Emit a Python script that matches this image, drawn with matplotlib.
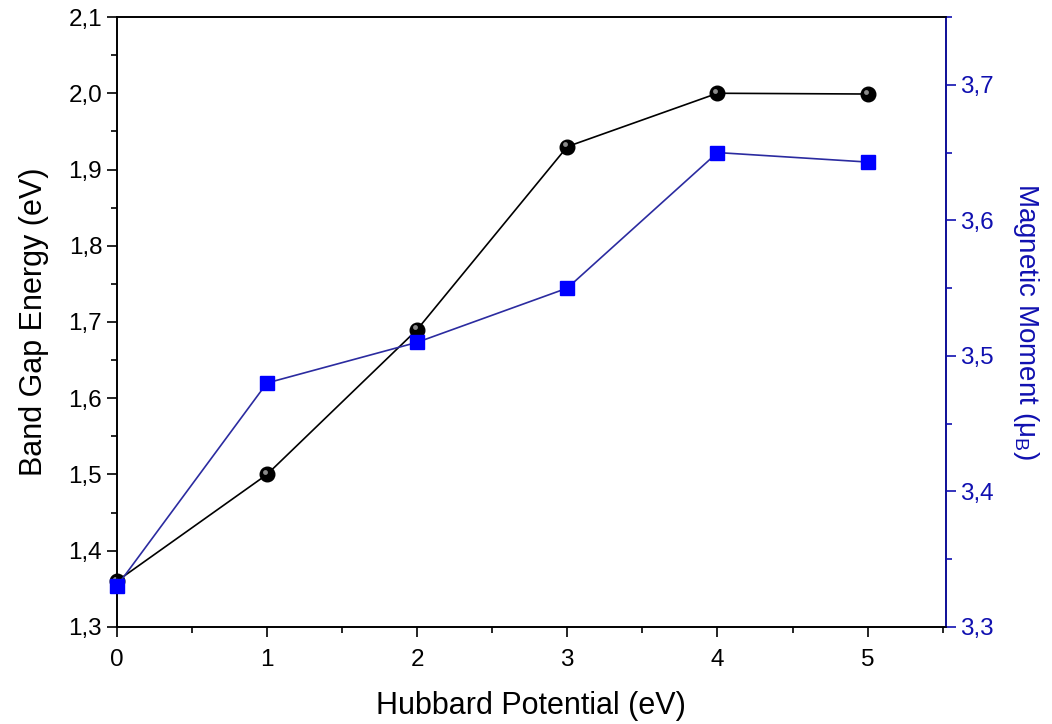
import numpy as np
import matplotlib.pyplot as plt
from matplotlib.ticker import FuncFormatter, MultipleLocator
from matplotlib.transforms import offset_copy

plt.rcParams['font.family'] = ['Liberation Sans', 'DejaVu Sans']

# dados
hubbard = [0, 1, 2, 3, 4, 5]
band_gap = [1.36, 1.50, 1.69, 1.93, 2.00, 1.999]
momento = [3.33, 3.48, 3.51, 3.55, 3.65, 3.643]

azul_eixo = '#1010b0'
azul_linha = '#2b2ba0'


def virgula(decimais):
    return FuncFormatter(lambda v, p: ("{:.%df}" % decimais).format(v).replace('.', ','))


fig = plt.figure(figsize=(10.52, 7.24), dpi=100)
ax = fig.add_axes([0.111, 0.134, 0.788, 0.8425])
ax2 = ax.twinx()

# curva do gap (esferas pretas)
ax.plot(hubbard, band_gap, color='black', lw=1.2, zorder=3)
ax.plot(hubbard, band_gap, 'o', color='black', ms=10.5, zorder=4, clip_on=False)
brilho = offset_copy(ax.transData, fig=fig, x=-1.5, y=1.8, units='points')
ax.plot(hubbard, band_gap, 'o', color='#8a8a8a', ms=3.5, mew=0, zorder=5,
        transform=brilho, clip_on=False)

# curva do momento magnetico (quadrados azuis)
ax2.plot(hubbard, momento, color=azul_linha, lw=1.2, zorder=3)
ax2.plot(hubbard, momento, 's', color='#0000ff', ms=9.5, zorder=4, clip_on=False)

ax.set_xlim(0, 5.52)
ax.set_ylim(1.3, 2.1)
ax2.set_ylim(3.3, 3.75)

ax.xaxis.set_major_locator(MultipleLocator(1))
ax.xaxis.set_minor_locator(MultipleLocator(0.5))
ax.yaxis.set_major_locator(MultipleLocator(0.1))
ax.yaxis.set_minor_locator(MultipleLocator(0.05))
ax2.yaxis.set_major_locator(MultipleLocator(0.1))
ax2.yaxis.set_minor_locator(MultipleLocator(0.05))
ax.yaxis.set_major_formatter(virgula(1))
ax2.yaxis.set_major_formatter(virgula(1))

for a in (ax, ax2):
    a.tick_params(which='major', direction='out', length=7, width=1.2, labelsize=17.5)
    a.tick_params(which='minor', direction='out', length=4, width=1.2)
    for s in a.spines.values():
        s.set_linewidth(1.2)

ax.tick_params(axis='x', pad=9)
ax2.spines['right'].set_color(azul_eixo)
ax2.tick_params(axis='y', which='both', colors=azul_eixo, labelcolor=azul_eixo)

ax.set_xlabel('Hubbard Potential (eV)', fontsize=22, labelpad=14)
ax.set_ylabel('Band Gap Energy (eV)', fontsize=22, labelpad=14)
ax2.set_ylabel('Magnetic Moment (μ$_\\mathregular{B}$)', fontsize=20, color=azul_eixo,
               rotation=270, labelpad=34)

plt.savefig('out.png', dpi=100)
